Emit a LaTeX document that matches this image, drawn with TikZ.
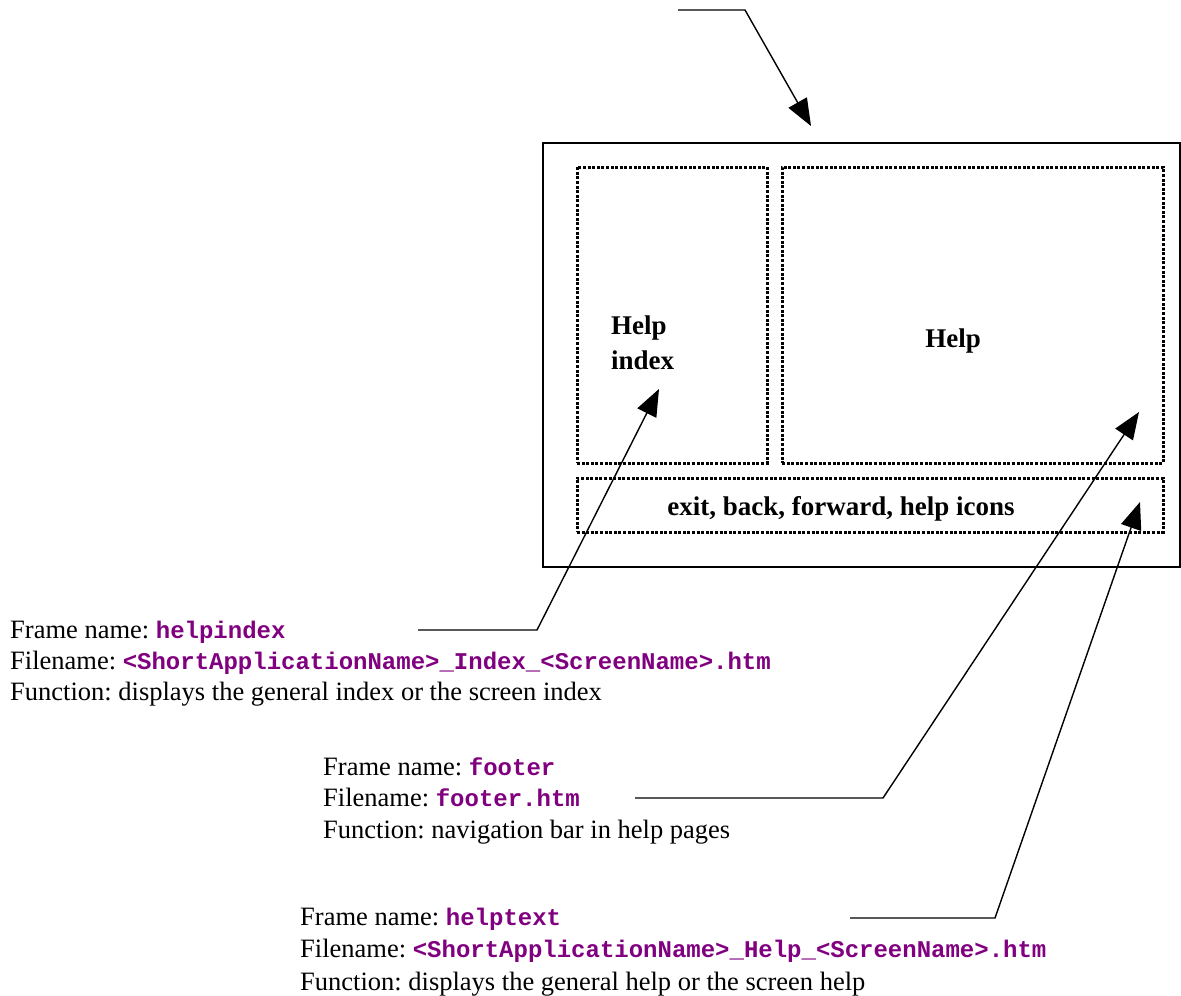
\documentclass[tikz,border=0pt]{standalone}
\usepackage{fontspec}
\setmainfont{Liberation Serif}
\setmonofont{Liberation Mono}
\usetikzlibrary{arrows.meta}
\definecolor{fname}{HTML}{800080}
\newcommand{\fn}[1]{{\ttfamily\bfseries\fontsize{24}{28}\selectfont\color{fname}#1}}
\begin{document}
\frenchspacing
\begin{tikzpicture}[x=1pt,y=-1pt,
 lbl/.style={anchor=base west,inner sep=0pt,font=\fontsize{26.5}{30}\selectfont},
 inlbl/.style={font=\fontsize{27}{30}\selectfont\bfseries,inner sep=0pt},
 outer/.style={draw,line width=1.4pt,inner sep=0pt},
 subframe/.style={draw,line width=3pt,dash pattern=on 3pt off 1.6pt,inner sep=0pt},
 conn/.style={line width=1.4pt},
 tipped/.style={-{Triangle[length=27pt,width=21pt]}},
]
\useasboundingbox (0,0) rectangle (1181,996);
% screen and frames
\node[outer,minimum width=637pt,minimum height=424pt] (screen) at (861.5,355) {};
\node[subframe,minimum width=190pt,minimum height=296pt] (idxbox) at (672,315) {};
\node[subframe,minimum width=381pt,minimum height=296pt] (helpbox) at (972.5,315) {};
\node[subframe,minimum width=586pt,minimum height=54pt] (footbox) at (870,505) {};
% frame captions
\node[inlbl,anchor=base west] (idxa) at (611,334) {Help};
\node[inlbl,anchor=base west] (idxb) at (611,369) {index};
\node[inlbl,anchor=base] (helpl) at (953,347) {Help};
\node[inlbl,anchor=base] (footl) at (841,515) {exit, back, forward, help icons};
% description blocks
\node[lbl] (a1) at (10,638) {Frame name: \fn{helpindex}};
\node[lbl] (a2) at (10,669) {Filename: \fn{<ShortApplicationName>\_Index\_<ScreenName>.htm}};
\node[lbl] (a3) at (10,700) {Function: displays the general index or the screen index};
\node[lbl] (b1) at (323,775) {Frame name: \fn{footer}};
\node[lbl] (b2) at (323,806) {Filename: \fn{footer.htm}};
\node[lbl] (b3) at (323,838) {Function: navigation bar in help pages};
\node[lbl] (c1) at (300,925) {Frame name: \fn{helptext}};
\node[lbl] (c2) at (300,957) {Filename: \fn{<ShortApplicationName>\_Help\_<ScreenName>.htm}};
\node[lbl] (c3) at (300,990) {Function: displays the general help or the screen help};
% connector points
\coordinate (t0s) at (678,10);
\coordinate (t0b) at (745,10);
\coordinate (t0e) at (811,126);
\coordinate (t1s) at (418,630);
\coordinate (t1b) at (537,630);
\coordinate (t1e) at (659,389);
\coordinate (t2s) at (635,798);
\coordinate (t2b) at (883,798);
\coordinate (t2e) at (1139,412);
\coordinate (t3s) at (850,918);
\coordinate (t3b) at (995,918);
\coordinate (t3e) at (1140,502);
\draw[conn,tipped] (t0s) -- (t0b) -- (t0e);
\draw[conn,tipped] (t1s) -- (t1b) -- (t1e);
\draw[conn,tipped] (t2s) -- (t2b) -- (t2e);
\draw[conn,tipped] (t3s) -- (t3b) -- (t3e);
\end{tikzpicture}
\end{document}
